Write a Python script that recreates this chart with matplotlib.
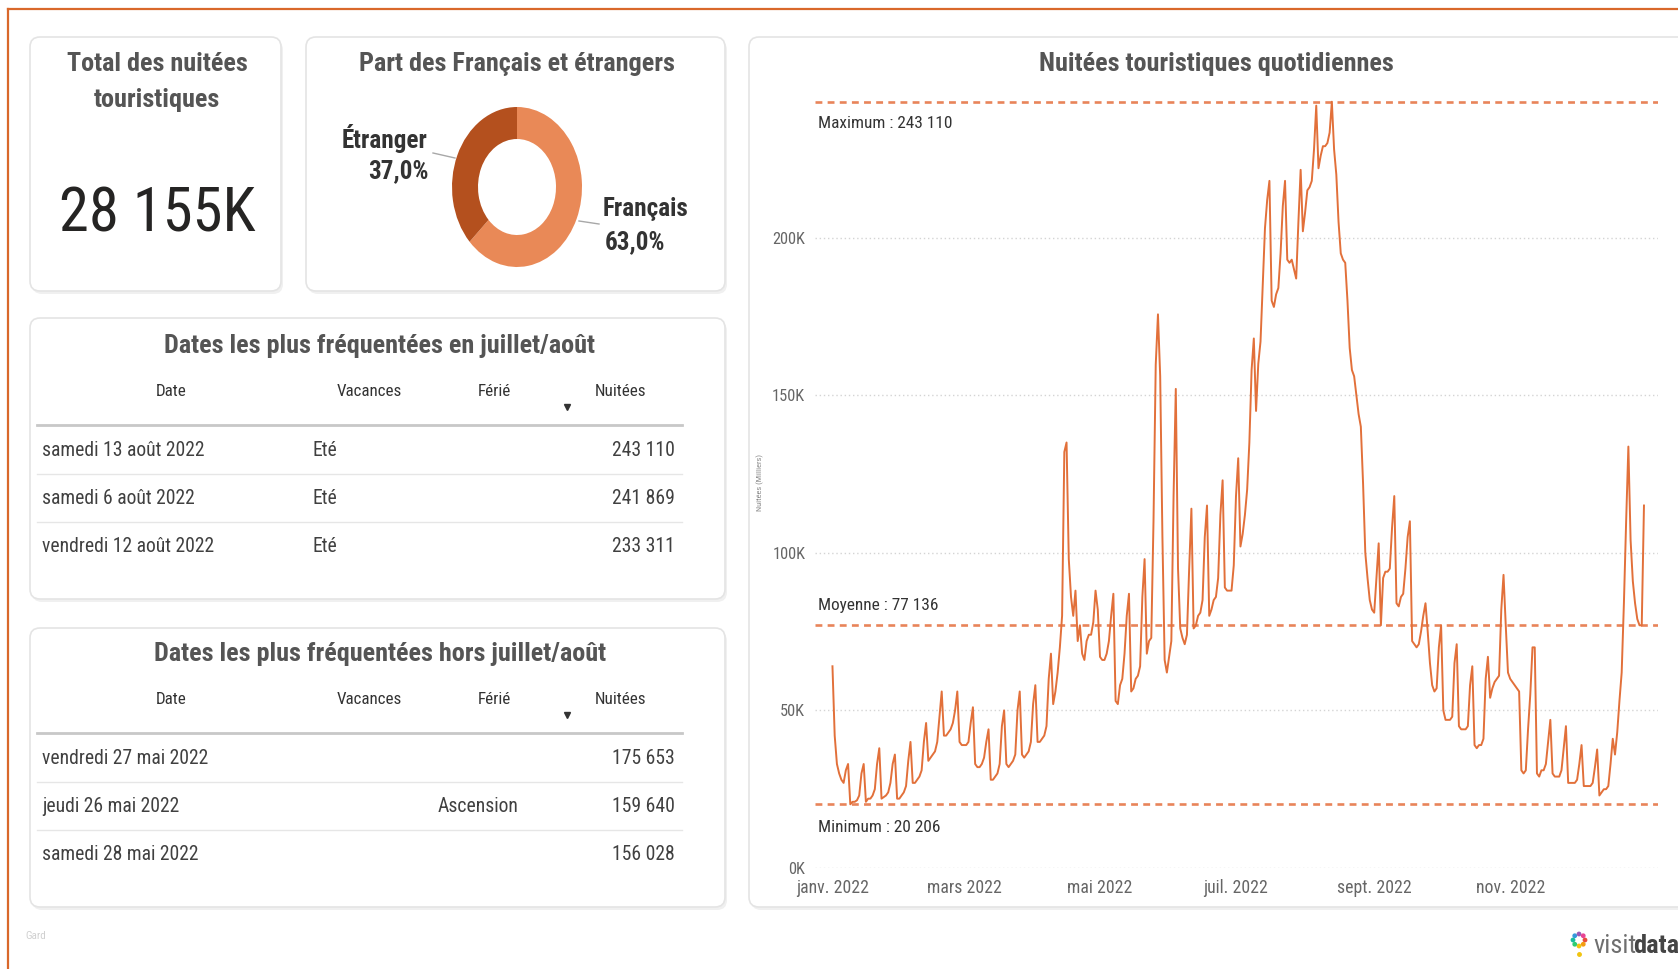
import matplotlib
matplotlib.use("Agg")
import matplotlib.pyplot as plt
import numpy as np
import pandas as pd
from matplotlib import font_manager
from matplotlib.patches import FancyBboxPatch

# ---- fonts: a narrow face looks closer to the squeezed screenshot
avail = {f.name for f in font_manager.fontManager.ttflist}
FONT = next((f for f in ['Liberation Sans Narrow', 'Roboto Condensed', 'Roboto'] if f in avail), 'DejaVu Sans')
K = 1.18 if 'Narrow' in FONT or 'Condensed' in FONT else 1.0
plt.rcParams['font.family'] = [FONT, 'DejaVu Sans']

# ---- data
total_k = 28155
parts_labels = ['Français', 'Étranger']
parts_values = [63.0, 37.0]

ete_dates = ['samedi 13 août 2022', 'samedi 6 août 2022', 'vendredi 12 août 2022']
ete_vacances = ['Eté', 'Eté', 'Eté']
ete_ferie = ['', '', '']
ete_nuitees = [243110, 241869, 233311]

hors_dates = ['vendredi 27 mai 2022', 'jeudi 26 mai 2022', 'samedi 28 mai 2022']
hors_vacances = ['', '', '']
hors_ferie = ['', 'Ascension', '']
hors_nuitees = [175653, 159640, 156028]

max_nuitees = 243110
moy_nuitees = 77136
min_nuitees = 20206

# daily values, in thousands
jan = [64, 42, 33, 30, 28, 27, 31, 33, 20.206, 21, 21, 21.5, 23, 30, 33, 21, 22, 22, 23, 25, 33,
       38, 22, 22.5, 23, 24, 27, 33, 36, 22, 22]
feb = [23, 24, 26, 34, 40, 27, 27, 28, 29, 31, 40, 46, 34, 35, 36, 37, 40, 48, 56, 42, 42, 43, 44, 46,
       50, 56, 40, 39]
mar = [39, 39, 40, 46, 51, 33, 32, 32, 33, 35, 40, 44, 28, 28, 29, 30, 33, 45, 50, 33, 32, 33, 34, 36,
       50, 56, 36, 35, 36, 37, 40]
apr = [52, 58, 40, 40, 41, 42, 45, 60, 68, 52, 56, 62, 70, 80, 132, 135, 98, 86, 80, 88, 72, 77, 68, 66,
       72, 74, 74, 78, 88, 82]
may = [67, 66, 66, 68, 72, 80, 87, 53, 52, 58, 60, 68, 80, 87, 56, 57, 60, 61, 64, 86, 98, 68, 72, 73,
       110, 159.640, 175.653, 156.028, 105, 66, 62]
jun = [67, 72, 118, 152, 95, 76, 73, 71, 74, 95, 114, 76, 77, 80, 81, 85, 105, 115, 80, 82, 85, 86, 92,
       112, 123, 89, 88, 88, 88, 96]
jul = [118, 130, 102, 106, 112, 120, 135, 158, 168, 145, 160, 167, 185, 203, 212, 218, 180, 178, 182,
       184, 195, 210, 218, 193, 192, 193, 190, 187, 205, 221.5, 202]
aug = [208, 215, 216, 218, 228, 241.869, 222, 226, 229, 229, 230, 233.311, 243.110, 228, 220, 205, 195,
       193, 192, 180, 165, 158, 156, 150, 144, 140, 122, 100, 92, 85, 82]
sep = [81, 92, 103, 77, 92, 94, 94, 95, 108, 118, 84, 83, 86, 87, 95, 105, 110, 72, 71, 70, 71, 75, 80,
       84, 75, 65, 58, 56, 57, 70]
oct_ = [77, 50, 47, 47, 47, 48, 65, 71, 45, 44, 44, 44, 45, 58, 64, 39, 38, 39, 39, 41, 60, 67, 54, 57,
        59, 60, 61, 82, 93, 77, 62]
nov = [60, 59, 58, 57, 56, 31, 30, 31, 44, 55, 70, 70, 30, 29, 31, 31, 33, 40, 47, 30, 29, 29, 29, 31,
       38, 45, 27, 27, 27, 27]
dec = [28, 33, 39, 26, 26, 26, 26, 27, 32, 37.6, 23, 24, 25, 25, 26, 33, 41, 36, 43, 53, 62, 84, 110,
       133.7, 104, 91, 84, 79, 77, 77, 115]

nuitees = np.array(jan + feb + mar + apr + may + jun + jul + aug + sep + oct_ + nov + dec) * 1000
dates = pd.date_range('2022-01-01', periods=len(nuitees), freq='D')

x_ticks = ['2022-01-01', '2022-03-01', '2022-05-01', '2022-07-01', '2022-09-01', '2022-11-01']
x_labels = ['janv. 2022', 'mars 2022', 'mai 2022', 'juil. 2022', 'sept. 2022', 'nov. 2022']
y_ticks = [0, 50000, 100000, 150000, 200000]

# ---- colours
ORANGE = '#E2703A'
REF = '#E8845A'
FR_COL = '#E98957'
ET_COL = '#B4501E'
TITLE = '#555555'
TXT = '#333333'


def fmt(v):
    return f"{v:,}".replace(',', ' ')


W, H = 1678, 969
fig = plt.figure(figsize=(W / 100, H / 100), dpi=100)
fig.patch.set_facecolor('white')

bg = fig.add_axes([0, 0, 1, 1])
bg.set_xlim(0, W)
bg.set_ylim(H, 0)
bg.axis('off')

# orange frame of the page
bg.plot([8, W], [9, 9], color='#D9682B', lw=1.6)
bg.plot([8, 8], [9, H], color='#D9682B', lw=1.6)


def card(x0, y0, x1, y1):
    bg.add_patch(FancyBboxPatch((x0 + 2, y0 + 3), x1 - x0, y1 - y0,
                                boxstyle="round,pad=0,rounding_size=10", fc='#f0f0f0', ec='none'))
    bg.add_patch(FancyBboxPatch((x0, y0), x1 - x0, y1 - y0,
                                boxstyle="round,pad=0,rounding_size=10", fc='white', ec='#e4e4e4', lw=1.2))


card(30, 37, 281, 291)
card(306, 37, 725, 291)
card(30, 318, 725, 599)
card(30, 628, 725, 907)
card(749, 37, 1700, 907)

TS = 16 * K  # card titles

# ---- KPI card
bg.text(157, 64, 'Total des nuitées', ha='center', va='center', fontsize=TS, color=TITLE, fontweight='bold')
bg.text(157, 100, 'touristiques', ha='center', va='center', fontsize=TS, color=TITLE, fontweight='bold')
bg.text(157, 214, f"{fmt(total_k)}K", ha='center', va='center', fontsize=37 * K, color='#252423')

# ---- donut
bg.text(517, 64, 'Part des Français et étrangers', ha='center', va='center', fontsize=TS,
        color=TITLE, fontweight='bold')
axd = fig.add_axes([452 / W, 1 - 267 / H, 130 / W, 160 / H])
axd.pie(parts_values, colors=[FR_COL, ET_COL], startangle=90, counterclock=False,
        wedgeprops=dict(width=0.4, edgecolor='none'))
axd.set_aspect('auto')
axd.set_xlim(-1, 1)
axd.set_ylim(-1, 1)

pct = [f"{v:.1f}%".replace('.', ',') for v in parts_values]
bg.text(385, 138, parts_labels[1], ha='center', va='center', fontsize=15.3 * K, color=TXT, fontweight='bold')
bg.text(398, 171, pct[1], ha='center', va='center', fontsize=15.3 * K, color=TXT, fontweight='bold')
bg.plot([433, 455], [153, 158], color='#a8a8a8', lw=1)
bg.text(646, 209, parts_labels[0], ha='center', va='center', fontsize=15.3 * K, color=TXT, fontweight='bold')
bg.text(635, 242, pct[0], ha='center', va='center', fontsize=15.3 * K, color=TXT, fontweight='bold')
bg.plot([579, 599], [221, 224], color='#a8a8a8', lw=1)


# ---- tables
def table(y_title, title, dates_, vac, fer, nuit, ferie_x):
    bg.text(380, y_title, title, ha='center', va='center', fontsize=TS, color=TITLE, fontweight='bold')
    yh = y_title + 46
    for x, h in zip([171, 369, 494, 620], ['Date', 'Vacances', 'Férié', 'Nuitées']):
        bg.text(x, yh, h, ha='center', va='center', fontsize=10.4 * K, color=TXT)
    bg.plot([567], [yh + 15], marker='v', ms=4.5, color='#333333', ls='none')
    bg.plot([37, 682], [yh + 33, yh + 33], color='#c8c8c8', lw=2)
    for i in range(len(dates_)):
        yr = yh + 58 + i * 48
        bg.text(42, yr, dates_[i], ha='left', va='center', fontsize=12 * K, color='#404040')
        bg.text(312, yr, vac[i], ha='left', va='center', fontsize=12 * K, color='#404040')
        bg.text(ferie_x, yr, fer[i], ha='left', va='center', fontsize=12 * K, color='#404040')
        bg.text(675, yr, fmt(nuit[i]), ha='right', va='center', fontsize=12 * K, color='#404040')
        if i < len(dates_) - 1:
            bg.plot([37, 682], [yr + 24, yr + 24], color='#e6e6e6', lw=1)


table(346, 'Dates les plus fréquentées en juillet/août', ete_dates, ete_vacances, ete_ferie, ete_nuitees, 438)
table(654, 'Dates les plus fréquentées hors juillet/août', hors_dates, hors_vacances, hors_ferie, hors_nuitees, 438)

# ---- line chart
bg.text(1216, 64, 'Nuitées touristiques quotidiennes', ha='center', va='center', fontsize=TS,
        color=TITLE, fontweight='bold')
bg.text(760, 482, 'Nuitées (Milliers)', ha='center', va='center', rotation=90, fontsize=6, color='#888888')

ax = fig.add_axes([815 / W, 1 - 868 / H, 843 / W, 788 / H])
ax.set_facecolor('none')
ax.plot(dates, nuitees, color=ORANGE, lw=1.4, zorder=3)
for v in [max_nuitees, moy_nuitees, min_nuitees]:
    ax.axhline(v, color=REF, lw=1.9, linestyle=(0, (2.6, 2.0)), zorder=2)

ax.annotate(f"Maximum : {fmt(max_nuitees)}", xy=(0.004, max_nuitees), xycoords=('axes fraction', 'data'),
            xytext=(0, -10.5), textcoords='offset points', va='top', ha='left', fontsize=10.5 * K, color=TXT)
ax.annotate(f"Moyenne : {fmt(moy_nuitees)}", xy=(0.004, moy_nuitees), xycoords=('axes fraction', 'data'),
            xytext=(0, 8.5), textcoords='offset points', va='bottom', ha='left', fontsize=10.5 * K, color=TXT)
ax.annotate(f"Minimum : {fmt(min_nuitees)}", xy=(0.004, min_nuitees), xycoords=('axes fraction', 'data'),
            xytext=(0, -11), textcoords='offset points', va='top', ha='left', fontsize=10.5 * K, color=TXT)

ax.set_xlim(pd.Timestamp('2021-12-24 04:00'), pd.Timestamp('2023-01-06 07:00'))
ax.set_ylim(0, 250000)
ax.set_xticks(pd.to_datetime(x_ticks))
ax.set_xticklabels(x_labels)
ax.set_yticks(y_ticks)
ax.set_yticklabels([f"{v // 1000}K" for v in y_ticks])
ax.tick_params(length=0, labelsize=10 * K, labelcolor='#666666')
ax.tick_params(axis='x', labelsize=10.8 * K, pad=8)
ax.tick_params(axis='y', pad=7)
ax.yaxis.grid(True, linestyle=(0, (1, 2)), color='#d4d4d4', lw=1)
ax.set_axisbelow(True)
for s in ax.spines.values():
    s.set_visible(False)

# ---- footer
bg.text(25, 936, 'Gard', ha='left', va='center', fontsize=8, color='#d0d0d0')
ring = np.linspace(0, 2 * np.pi, 9)[:-1]
bg.scatter(1579 + 6 * np.cos(ring), 940 + 6 * np.sin(ring), s=6,
           c=['#e74c3c', '#f39c12', '#f1c40f', '#2ecc71', '#1abc9c', '#3498db', '#9b59b6', '#e84393'])
bg.plot([1579], [954], marker='o', ms=2.5, color='#f1c40f')
t1 = bg.text(1593, 946, 'visit', ha='left', va='center', fontsize=19, color='#6f6f6f')
bg.annotate('data', xy=(1, 0.5), xycoords=t1, xytext=(-2, 0), textcoords='offset points',
            ha='left', va='center', fontsize=19, color='#444444', fontweight='bold')

fig.savefig('out.png', dpi=100)
